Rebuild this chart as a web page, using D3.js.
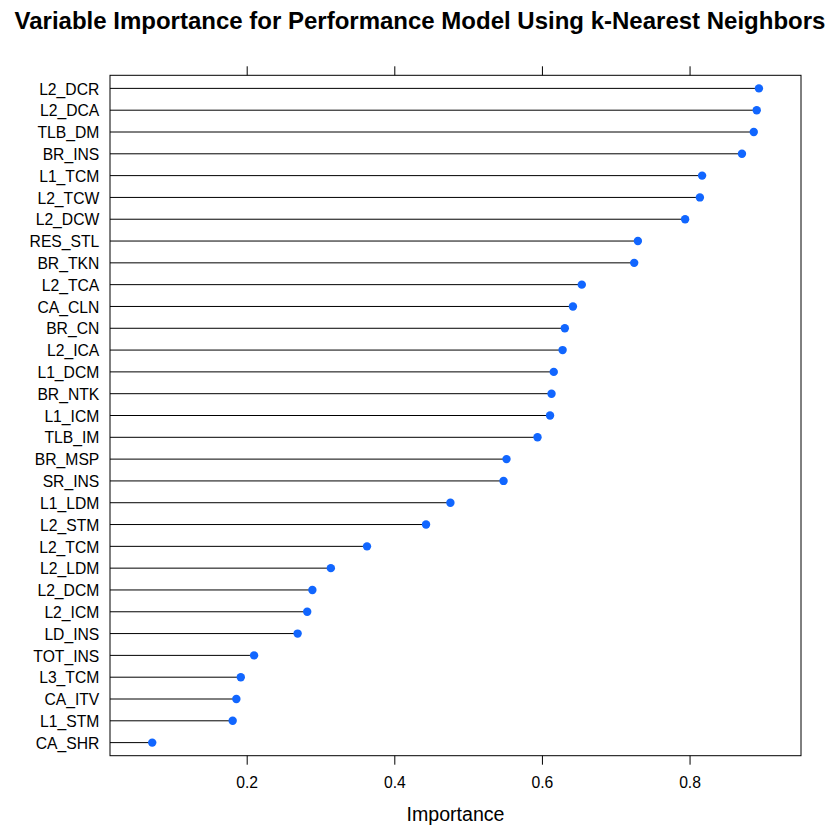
<!DOCTYPE html>
<html>
<head>
<meta charset="utf-8">
<script src="https://cdn.jsdelivr.net/npm/d3@7"></script>
<style>
  html, body { margin: 0; padding: 0; background: #fff; }
  svg { display: block; }
  text { font-family: "Liberation Sans", Arial, Helvetica, sans-serif; fill: #000; }
</style>
</head>
<body>
<svg id="chart" width="840" height="840"></svg>
<script>
// ---- Data ----
const variables = [
  "L2_DCR", "L2_DCA", "TLB_DM", "BR_INS", "L1_TCM", "L2_TCW", "L2_DCW",
  "RES_STL", "BR_TKN", "L2_TCA", "CA_CLN", "BR_CN", "L2_ICA", "L1_DCM",
  "BR_NTK", "L1_ICM", "TLB_IM", "BR_MSP", "SR_INS", "L1_LDM", "L2_STM",
  "L2_TCM", "L2_LDM", "L2_DCM", "L2_ICM", "LD_INS", "TOT_INS", "L3_TCM",
  "CA_ITV", "L1_STM", "CA_SHR"
];
const importance = [
  0.894, 0.891, 0.887, 0.871, 0.817, 0.814, 0.794,
  0.730, 0.725, 0.654, 0.642, 0.631, 0.628, 0.616,
  0.613, 0.611, 0.594, 0.552, 0.548, 0.476, 0.443,
  0.363, 0.314, 0.289, 0.282, 0.269, 0.210, 0.192,
  0.186, 0.181, 0.072
];
const xTicks = [0.2, 0.4, 0.6, 0.8];
const xDomain = [0.0148, 0.951];

const titleText = "Variable Importance for Performance Model Using k-Nearest Neighbors";
const xLabel = "Importance";

// ---- Layout ----
const panel = { left: 110, right: 801, top: 75.3, bottom: 755.7 };
const svg = d3.select("#chart");

const x = d3.scaleLinear().domain(xDomain).range([panel.left, panel.right]);
const y = d3.scaleLinear().domain([-0.6, variables.length - 1 + 0.6]).range([panel.top, panel.bottom]);

const rows = variables.map((v, i) => ({ name: v, value: importance[i], i }));

// Title
svg.append("text")
  .attr("x", 420).attr("y", 29)
  .attr("text-anchor", "middle")
  .style("font-weight", "bold")
  .style("font-size", "24px")
  .text(titleText);

// Lines from left edge to the dot
svg.append("g").selectAll("line")
  .data(rows).join("line")
  .attr("x1", panel.left)
  .attr("x2", d => x(d.value))
  .attr("y1", d => y(d.i))
  .attr("y2", d => y(d.i))
  .attr("stroke", "#000")
  .attr("stroke-width", 1);

// Dots
svg.append("g").selectAll("circle")
  .data(rows).join("circle")
  .attr("cx", d => x(d.value))
  .attr("cy", d => y(d.i))
  .attr("r", 4.2)
  .attr("fill", "#1166ff");

// Panel border
svg.append("rect")
  .attr("x", panel.left).attr("y", panel.top)
  .attr("width", panel.right - panel.left)
  .attr("height", panel.bottom - panel.top)
  .attr("fill", "none")
  .attr("stroke", "#000")
  .attr("stroke-width", 1);

// Bottom axis
const bottomAxis = d3.axisBottom(x)
  .tickValues(xTicks)
  .tickFormat(d3.format(".1f"))
  .tickSize(9)
  .tickPadding(12);
const gb = svg.append("g")
  .attr("transform", `translate(0,${panel.bottom})`)
  .call(bottomAxis);
gb.select(".domain").remove();
gb.selectAll("text").style("font-size", "15.7px").attr("fill", "#000")
  .style("font-family", '"Liberation Sans", Arial, sans-serif');
gb.selectAll("line").attr("stroke", "#000");

// Top axis (ticks only)
const topAxis = d3.axisTop(x)
  .tickValues(xTicks)
  .tickFormat(() => "")
  .tickSize(9);
const gt = svg.append("g")
  .attr("transform", `translate(0,${panel.top})`)
  .call(topAxis);
gt.select(".domain").remove();
gt.selectAll("line").attr("stroke", "#000");

// Left labels
const leftAxis = d3.axisLeft(y)
  .tickValues(rows.map(d => d.i))
  .tickFormat(i => variables[i])
  .tickSize(0)
  .tickPadding(10.7);
const gl = svg.append("g")
  .attr("transform", `translate(${panel.left},0)`)
  .call(leftAxis);
gl.select(".domain").remove();
gl.selectAll("text")
  .style("font-size", "15.7px")
  .style("font-family", '"Liberation Sans", Arial, sans-serif')
  .attr("fill", "#000")
  .attr("dy", "0.36em");

// X label
svg.append("text")
  .attr("x", (panel.left + panel.right) / 2)
  .attr("y", 821)
  .attr("text-anchor", "middle")
  .style("font-size", "19.6px")
  .text(xLabel);
</script>
</body>
</html>
